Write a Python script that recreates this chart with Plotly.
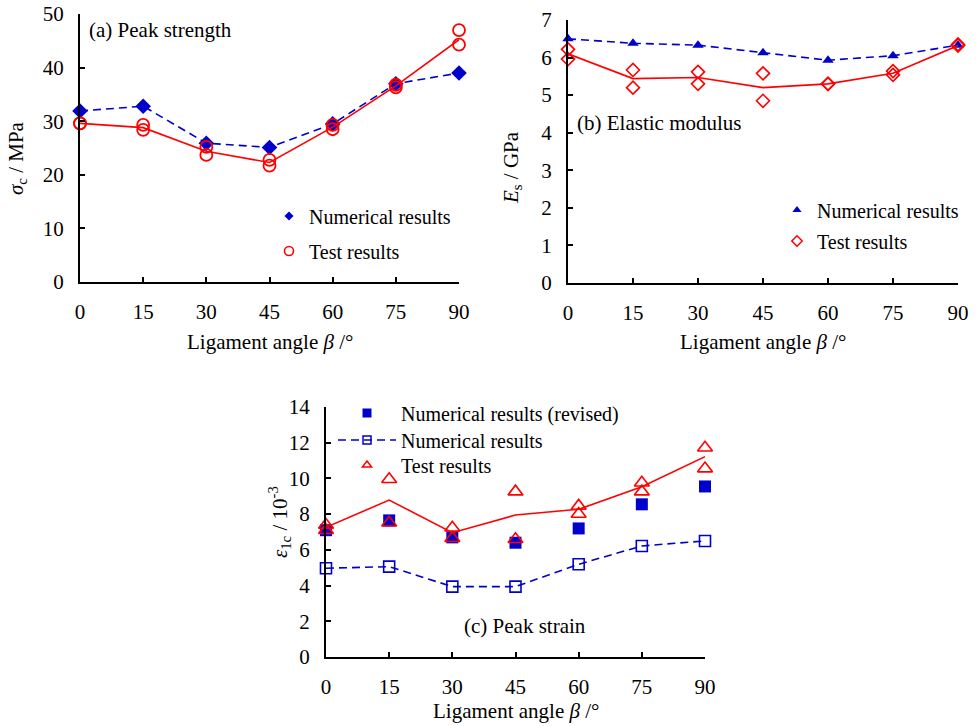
import plotly.graph_objects as go

# ---------------- data ----------------
angles = [0, 15, 30, 45, 60, 75, 90]
x_ticks = [0, 15, 30, 45, 60, 75, 90]

# (a) Peak strength (MPa)
a_numerical = [31.9, 32.8, 25.9, 25.1, 29.5, 37.0, 39.0]
a_test_1 = [29.6, 29.3, 25.2, 22.8, 29.3, 36.8, 47.0]
a_test_2 = [29.6, 28.4, 23.7, 21.7, 28.5, 36.3, 44.3]
a_test_mean = [29.6, 28.8, 24.4, 22.3, 28.9, 36.6, 45.2]

# (b) Elastic modulus (GPa)
b_numerical = [6.50, 6.38, 6.33, 6.13, 5.93, 6.05, 6.33]
b_test_1 = [6.22, 5.67, 5.62, 5.58, 5.30, 5.64, 6.35]
b_test_2 = [5.96, 5.20, 5.30, 4.85, 5.30, 5.54, 6.32]
b_test_mean = [6.10, 5.44, 5.47, 5.20, 5.30, 5.58, 6.32]

# (c) Peak strain (10^-3)
c_revised = [7.10, 7.65, 6.70, 6.40, 7.20, 8.55, 9.55]
c_numerical = [4.97, 5.06, 3.94, 3.94, 5.19, 6.22, 6.50]
c_test_1 = [7.39, 9.95, 7.24, 9.26, 8.46, 9.76, 11.72]
c_test_2 = [7.10, 7.52, 6.65, 6.59, 8.01, 9.26, 10.55]
c_test_mean = [7.26, 8.79, 6.96, 7.95, 8.27, 9.54, 11.22]

# ---------------- style ----------------
W, H = 978, 726
BLUE = "#0000CC"
RED = "#FF0000"
FONT = "Liberation Serif"
DASH = "8px,5px"


def px_x(p):
    return p / W


def px_y(p):
    return 1 - p / H


fig = go.Figure()

# ---- panel (a) ----
fig.add_trace(go.Scatter(x=angles, y=a_numerical, mode="lines+markers", xaxis="x", yaxis="y",
                         line=dict(color=BLUE, width=1.6, dash=DASH),
                         marker=dict(symbol="diamond", size=12, color=BLUE),
                         showlegend=False, cliponaxis=False))
fig.add_trace(go.Scatter(x=angles, y=a_test_mean, mode="lines", xaxis="x", yaxis="y",
                         line=dict(color=RED, width=1.6), showlegend=False, cliponaxis=False))
for ys in (a_test_1, a_test_2):
    fig.add_trace(go.Scatter(x=angles, y=ys, mode="markers", xaxis="x", yaxis="y",
                             marker=dict(symbol="circle-open", size=12, color=RED, line=dict(width=1.8)),
                             showlegend=False, cliponaxis=False))

# ---- panel (b) ----
fig.add_trace(go.Scatter(x=angles, y=b_numerical, mode="lines+markers", xaxis="x2", yaxis="y2",
                         line=dict(color=BLUE, width=1.6, dash=DASH),
                         marker=dict(symbol="triangle-up", size=10, color=BLUE),
                         showlegend=False, cliponaxis=False))
fig.add_trace(go.Scatter(x=angles, y=b_test_mean, mode="lines", xaxis="x2", yaxis="y2",
                         line=dict(color=RED, width=1.6), showlegend=False, cliponaxis=False))
for ys in (b_test_1, b_test_2):
    fig.add_trace(go.Scatter(x=angles, y=ys, mode="markers", xaxis="x2", yaxis="y2",
                             marker=dict(symbol="diamond-open", size=10, color=RED, line=dict(width=1.6)),
                             showlegend=False, cliponaxis=False))

# ---- panel (c) ----
fig.add_trace(go.Scatter(x=angles, y=c_numerical, mode="lines+markers", xaxis="x3", yaxis="y3",
                         line=dict(color=BLUE, width=1.6, dash=DASH),
                         marker=dict(symbol="square-open", size=11, color=BLUE, line=dict(width=1.6)),
                         showlegend=False, cliponaxis=False))
fig.add_trace(go.Scatter(x=angles, y=c_revised, mode="markers", xaxis="x3", yaxis="y3",
                         marker=dict(symbol="square", size=12, color=BLUE),
                         showlegend=False, cliponaxis=False))
fig.add_trace(go.Scatter(x=angles, y=c_test_mean, mode="lines", xaxis="x3", yaxis="y3",
                         line=dict(color=RED, width=1.6), showlegend=False, cliponaxis=False))
for ys in (c_test_1, c_test_2):
    fig.add_trace(go.Scatter(x=angles, y=ys, mode="markers", xaxis="x3", yaxis="y3",
                             marker=dict(symbol="triangle-up-open", size=13, color=RED, line=dict(width=1.6)),
                             showlegend=False, cliponaxis=False))

# ---- legend entries (one legend each, placed like the original) ----
legend_items = [
    ("legend", "Numerical results", "markers", dict(symbol="diamond", size=7, color=BLUE), None),
    ("legend2", "Test results", "markers", dict(symbol="circle-open", size=9, color=RED, line=dict(width=1.6)), None),
    ("legend3", "Numerical results", "markers", dict(symbol="triangle-up", size=8, color=BLUE), None),
    ("legend4", "Test results", "markers", dict(symbol="diamond-open", size=8, color=RED, line=dict(width=1.5)), None),
    ("legend5", "Numerical results (revised)", "markers", dict(symbol="square", size=9, color=BLUE), None),
    ("legend6", "Numerical results", "lines+markers", dict(symbol="square-open", size=8, color=BLUE, line=dict(width=1.5)),
     dict(color=BLUE, width=1.6, dash=DASH)),
    ("legend7", "Test results", "markers", dict(symbol="triangle-up-open", size=8, color=RED, line=dict(width=1.5)), None),
]
for lg, name, mode, mk, ln in legend_items:
    kw = dict(x=[None], y=[None], mode=mode, name=name, marker=mk, legend=lg, showlegend=True, xaxis="x", yaxis="y")
    if ln is not None:
        kw["line"] = ln
    fig.add_trace(go.Scatter(**kw))

# legend positions: (marker centre px x, row centre px y, itemwidth)
legend_pos = {
    "legend": (289, 216, 30),
    "legend2": (289, 251, 30),
    "legend3": (797, 210, 30),
    "legend4": (797, 241, 30),
    "legend5": (367, 413, 58),
    "legend6": (367, 440, 58),
    "legend7": (367, 465, 58),
}
for lg, (mx, my, iw) in legend_pos.items():
    left = mx - (iw / 2 + 5)
    fig.update_layout({lg: dict(x=px_x(left), y=px_y(my), xanchor="left", yanchor="middle",
                                bgcolor="rgba(0,0,0,0)", borderwidth=0, itemwidth=iw,
                                font=dict(family=FONT, size=20, color="black"),
                                itemsizing="trace")})

# ---- axes ----
axis_common = dict(showline=True, linecolor="black", linewidth=2, ticks="inside", ticklen=5,
                   tickwidth=1.5, tickcolor="black", showgrid=False, zeroline=False,
                   tickfont=dict(family=FONT, size=21, color="black"), mirror=False,
                   automargin=False)

xdomains = {"a": (80, 459), "b": (568, 958), "c": (326, 705)}
ydomains = {"a": (282, 14), "b": (283, 20), "c": (657, 407)}

def xaxis_cfg(key, anchor):
    x0, x1 = xdomains[key]
    return dict(axis_common, domain=[px_x(x0), px_x(x1)], range=[0, 90], tickvals=x_ticks,
                anchor=anchor, ticklabelstandoff=10)

def yaxis_cfg(key, anchor, rng, dtick):
    y0, y1 = ydomains[key]
    return dict(axis_common, domain=[px_y(y0), px_y(y1)], range=rng, dtick=dtick,
                anchor=anchor, ticklabelstandoff=10)

fig.update_layout(
    xaxis=xaxis_cfg("a", "y"),
    yaxis=yaxis_cfg("a", "x", [0, 50], 10),
    xaxis2=xaxis_cfg("b", "y2"),
    yaxis2=yaxis_cfg("b", "x2", [0, 7], 1),
    xaxis3=xaxis_cfg("c", "y3"),
    yaxis3=yaxis_cfg("c", "x3", [0, 14], 2),
)

# ---- text annotations ----
title_font = dict(family=FONT, size=21, color="black")
xtitle = "Ligament angle <i>β</i> /°"
annotations = [
    dict(text="(a) Peak strength", x=px_x(87), y=px_y(30), xanchor="left", yanchor="middle"),
    dict(text="(b) Elastic modulus", x=px_x(575), y=px_y(123), xanchor="left", yanchor="middle"),
    dict(text="(c) Peak strain", x=px_x(525), y=px_y(626), xanchor="center", yanchor="middle"),
    dict(text=xtitle, x=px_x(270), y=px_y(342), xanchor="center", yanchor="middle"),
    dict(text=xtitle, x=px_x(763), y=px_y(342), xanchor="center", yanchor="middle"),
    dict(text=xtitle, x=px_x(516), y=px_y(711), xanchor="center", yanchor="middle"),
    dict(text="<i>σ</i><sub>c</sub> / MPa", x=px_x(17), y=px_y(158), xanchor="center", yanchor="middle", textangle=-90),
    dict(text="<i>E</i><sub>s</sub> / GPa", x=px_x(512), y=px_y(168), xanchor="center", yanchor="middle", textangle=-90),
    dict(text="<i>ε</i><sub>1c</sub> / 10<sup>-3</sup>", x=px_x(279), y=px_y(522), xanchor="center", yanchor="middle", textangle=-90),
]
for a in annotations:
    a.update(xref="paper", yref="paper", showarrow=False, font=title_font)

fig.update_layout(
    width=W, height=H, autosize=False,
    margin=dict(l=0, r=0, t=0, b=0, autoexpand=False),
    paper_bgcolor="white", plot_bgcolor="white",
    annotations=annotations,
    font=dict(family=FONT, color="black"),
)

fig.write_html("out.html")
